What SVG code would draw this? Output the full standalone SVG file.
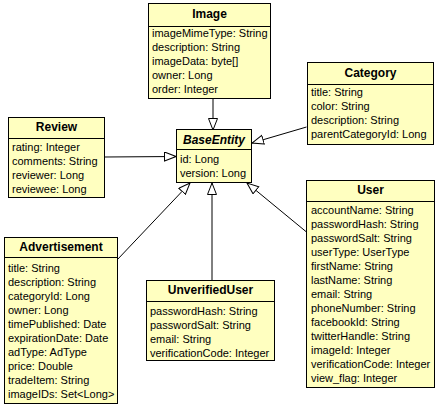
<svg xmlns="http://www.w3.org/2000/svg" width="438" height="407" viewBox="0 0 438 407">
<style>
.box{fill:#FFFFC0;stroke:#000;stroke-width:1}
.sep{stroke:#000;stroke-width:1}
.t{font-family:"Liberation Sans",Arial,sans-serif;font-size:12px;font-weight:bold;text-anchor:middle;fill:#000}
.a{font-family:"Liberation Sans",Arial,sans-serif;font-size:11px;fill:#000}
.c{fill:none;stroke:#000;stroke-width:1}
</style>
<defs>
<marker id="gen" markerUnits="userSpaceOnUse" markerWidth="13" markerHeight="11" refX="12" refY="5" orient="auto">
<path d="M0.5,0.5 L12,5 L0.5,9.5 z" fill="#fff" stroke="#000" stroke-width="1"/>
</marker>
</defs>
<g id="connectors">
<path class="c" d="M213,98.5 L213,130" marker-end="url(#gen)"/>
<path class="c" d="M306.5,127 L252,143" marker-end="url(#gen)"/>
<path class="c" d="M104.5,157 L176,156.5" marker-end="url(#gen)"/>
<path class="c" d="M117,260 L190,183" marker-end="url(#gen)"/>
<path class="c" d="M212,280 L212,183" marker-end="url(#gen)"/>
<path class="c" d="M306.5,232 L247,183" marker-end="url(#gen)"/>
</g>
<g id="Image">
<rect class="box" x="148.5" y="3.5" width="122" height="95"/>
<line class="sep" x1="148.5" y1="26.5" x2="270.5" y2="26.5"/>
<text class="t" x="209.5" y="18">Image</text>
<text class="a" x="152" y="37">imageMimeType: String</text>
<text class="a" x="152" y="51">description: String</text>
<text class="a" x="152" y="65">imageData: byte[]</text>
<text class="a" x="152" y="79">owner: Long</text>
<text class="a" x="152" y="93">order: Integer</text>
</g>
<g id="Category">
<rect class="box" x="307.5" y="62.5" width="126" height="82"/>
<line class="sep" x1="307.5" y1="84.5" x2="433.5" y2="84.5"/>
<text class="t" x="370.5" y="77">Category</text>
<text class="a" x="311" y="96">title: String</text>
<text class="a" x="311" y="110">color: String</text>
<text class="a" x="311" y="124">description: String</text>
<text class="a" x="311" y="138">parentCategoryId: Long</text>
</g>
<g id="Review">
<rect class="box" x="8.5" y="117.5" width="96" height="80"/>
<line class="sep" x1="8.5" y1="138.5" x2="104.5" y2="138.5"/>
<text class="t" x="56.5" y="131">Review</text>
<text class="a" x="12" y="151">rating: Integer</text>
<text class="a" x="12" y="165">comments: String</text>
<text class="a" x="12" y="179">reviewer: Long</text>
<text class="a" x="12" y="193">reviewee: Long</text>
</g>
<g id="BaseEntity">
<rect class="box" x="176.5" y="129.5" width="75" height="53"/>
<line class="sep" x1="176.5" y1="149.5" x2="251.5" y2="149.5"/>
<text class="t" x="214" y="144" font-style="italic">BaseEntity</text>
<text class="a" x="180" y="163">id: Long</text>
<text class="a" x="180" y="177">version: Long</text>
</g>
<g id="User">
<rect class="box" x="306.5" y="180.5" width="128" height="207"/>
<line class="sep" x1="306.5" y1="201.5" x2="434.5" y2="201.5"/>
<text class="t" x="370.5" y="194">User</text>
<text class="a" x="311" y="214">accountName: String</text>
<text class="a" x="311" y="228">passwordHash: String</text>
<text class="a" x="311" y="242">passwordSalt: String</text>
<text class="a" x="311" y="256">userType: UserType</text>
<text class="a" x="311" y="270">firstName: String</text>
<text class="a" x="311" y="284">lastName: String</text>
<text class="a" x="311" y="298">email: String</text>
<text class="a" x="311" y="312">phoneNumber: String</text>
<text class="a" x="311" y="326">facebookId: String</text>
<text class="a" x="311" y="340">twitterHandle: String</text>
<text class="a" x="311" y="354">imageId: Integer</text>
<text class="a" x="311" y="368">verificationCode: Integer</text>
<text class="a" x="311" y="382">view_flag: Integer</text>
</g>
<g id="Advertisement">
<rect class="box" x="4.5" y="237.5" width="113" height="166"/>
<line class="sep" x1="4.5" y1="257.5" x2="117.5" y2="257.5"/>
<text class="t" x="61" y="251">Advertisement</text>
<text class="a" x="8" y="272">title: String</text>
<text class="a" x="8" y="286">description: String</text>
<text class="a" x="8" y="300">categoryId: Long</text>
<text class="a" x="8" y="314">owner: Long</text>
<text class="a" x="8" y="328">timePublished: Date</text>
<text class="a" x="8" y="342">expirationDate: Date</text>
<text class="a" x="8" y="356">adType: AdType</text>
<text class="a" x="8" y="370">price: Double</text>
<text class="a" x="8" y="384">tradeItem: String</text>
<text class="a" x="8" y="398">imageIDs: Set&lt;Long&gt;</text>
</g>
<g id="UnverifiedUser">
<rect class="box" x="146.5" y="280.5" width="128" height="80"/>
<line class="sep" x1="146.5" y1="301.5" x2="274.5" y2="301.5"/>
<text class="t" x="210.5" y="294">UnverifiedUser</text>
<text class="a" x="150" y="315">passwordHash: String</text>
<text class="a" x="150" y="329">passwordSalt: String</text>
<text class="a" x="150" y="343">email: String</text>
<text class="a" x="150" y="357">verificationCode: Integer</text>
</g>
</svg>
